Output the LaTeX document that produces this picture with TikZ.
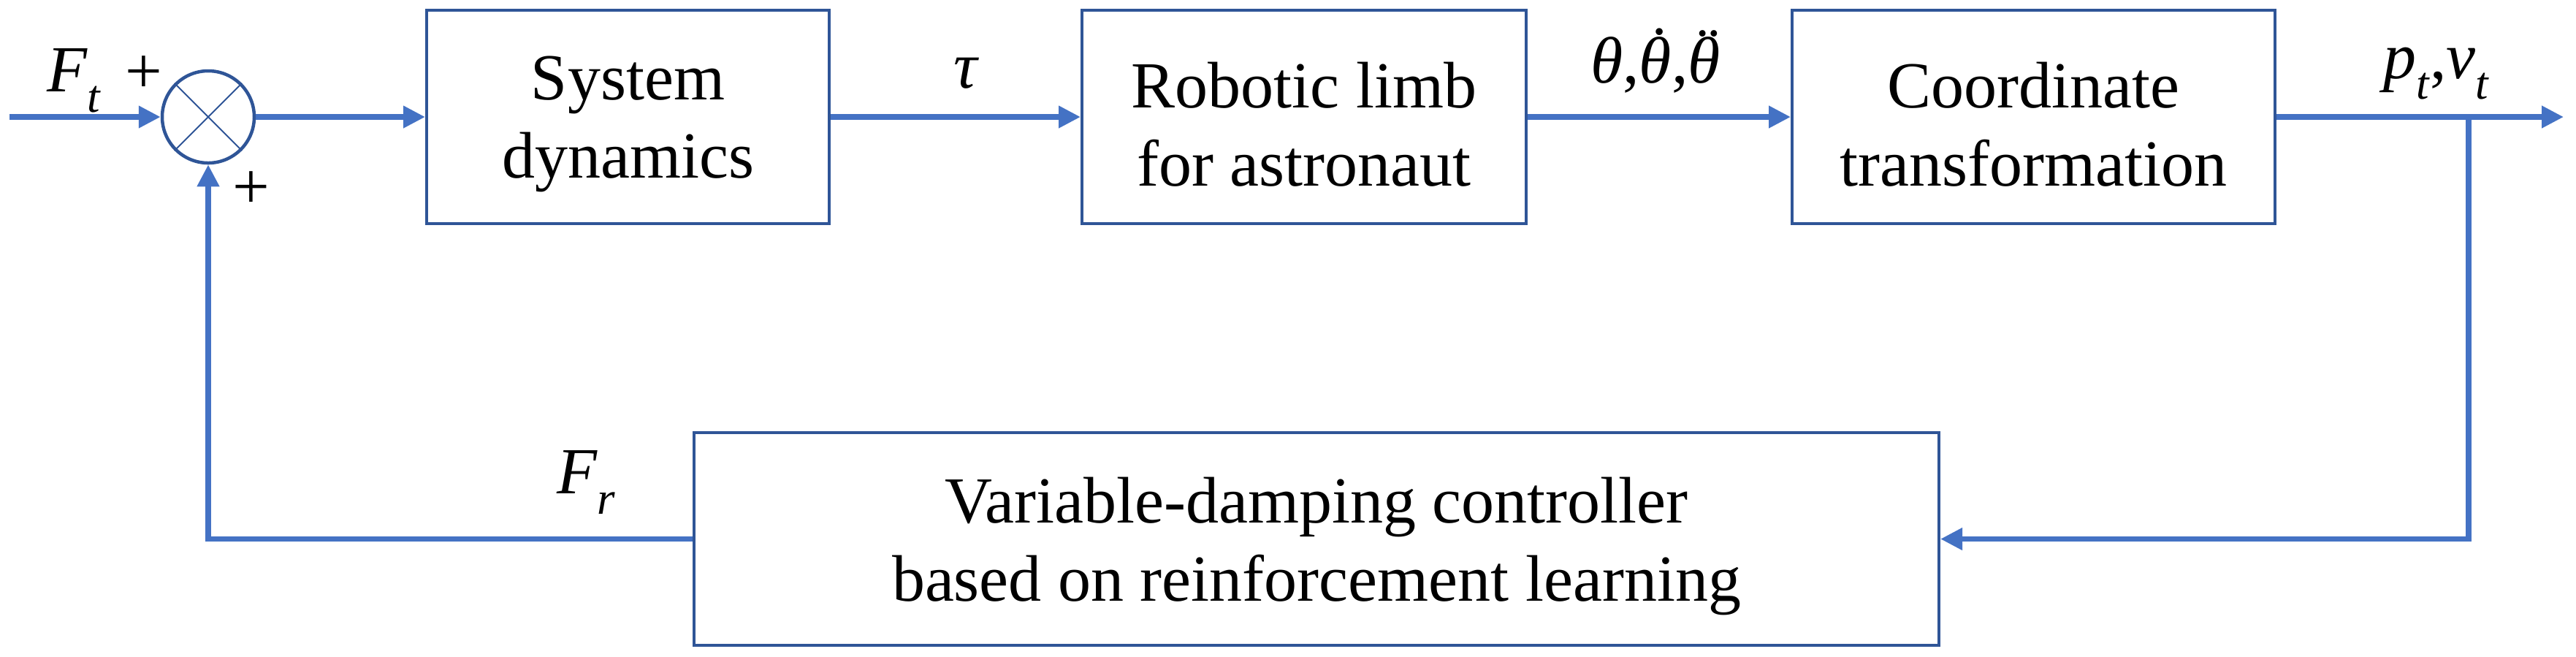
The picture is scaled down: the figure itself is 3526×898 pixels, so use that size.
\documentclass[tikz,border=0pt]{standalone}
\usepackage{fontspec}
\setmainfont{Liberation Serif}
\usetikzlibrary{arrows.meta}
\definecolor{arrowblue}{RGB}{68,114,196}
\definecolor{boxblue}{RGB}{47,85,151}
\newcommand\lsub[1]{\raisebox{-0.32em}{\fontsize{12.6}{12.6}\selectfont\textit{#1}}}
\newcommand\accover[2]{\ooalign{\textit{#1}\cr\hidewidth\kern0.12em\raisebox{0.16em}{#2}\hidewidth\cr}}
\tikzset{
  blockbox/.style={draw=boxblue, line width=0.8pt, rectangle, minimum height=58.4pt, inner sep=0pt},
  boxtext/.style={align=center, inner sep=0pt, font=\fontsize{18}{21.4}\selectfont},
  sumnode/.style={draw=boxblue, line width=0.9pt, circle, minimum size=25.2pt, inner sep=0pt},
  flow/.style={draw=arrowblue, line width=1.45pt, -{Triangle[length=6pt,width=5.8pt]}},
  lbl/.style={font=\fontsize{18}{21.4}\selectfont, inner sep=0pt}
}
\begin{document}
\begin{tikzpicture}[x=0.2pt,y=-0.2pt]
\useasboundingbox (0,0) rectangle (3526,898);
\node[sumnode] (sum) at (285,160) {};
\draw[boxblue, line width=0.4pt] (sum.north east) -- (sum.south west) (sum.north west) -- (sum.south east);
\node[blockbox, minimum width=110.2pt] (sd) at (859.5,160) {};
\node[blockbox, minimum width=121.6pt] (rl) at (1785,160) {};
\node[blockbox, minimum width=132.2pt] (ct) at (2783.5,160) {};
\node[blockbox, minimum width=340.8pt, minimum height=58.2pt] (vc) at (1802,737.5) {};
\node[boxtext] (sdt) at ([yshift=-2pt]sd.center) {System\\dynamics};
\node[boxtext] (rlt) at ([yshift=-2pt]rl.center) {Robotic limb\\for astronaut};
\node[boxtext] (ctt) at ([yshift=-2pt]ct.center) {Coordinate\\transformation};
\node[boxtext] (vct) at ([yshift=-2pt]vc.center) {Variable-damping controller\\based on reinforcement learning};
\coordinate (in) at (13,160);
\coordinate (out) at (3509,160);
\coordinate (br) at (3379,160);
\draw[flow] (in) -- (sum.west);
\draw[flow] (sum.east) -- (sd.west);
\draw[flow] (sd.east) -- (rl.west);
\draw[flow] (rl.east) -- (ct.west);
\draw[flow] (ct.east) -- (out);
\draw[flow] (br) |- (vc.east);
\draw[flow] (vc.west) -| (sum.south);
\node[lbl, anchor=base west] (ft) at (63,125) {\textit{F}\lsub{t}};
\node[lbl] (p1) at (197,102) {+};
\node[lbl] (p2) at (344,260) {+};
\node[lbl, anchor=base] (tau) at (1323,120) {\textit{τ}};
\node[lbl, anchor=base] (th) at (2266,113) {\textit{θ},\accover{θ}{˙},\accover{θ}{¨}};
\node[lbl, anchor=base] (pv) at (3335,107) {\textit{p}\lsub{t},\textit{v}\lsub{t}};
\node[lbl, anchor=base west] (fr) at (761,675) {\textit{F}\lsub{r}};
\end{tikzpicture}
\end{document}
